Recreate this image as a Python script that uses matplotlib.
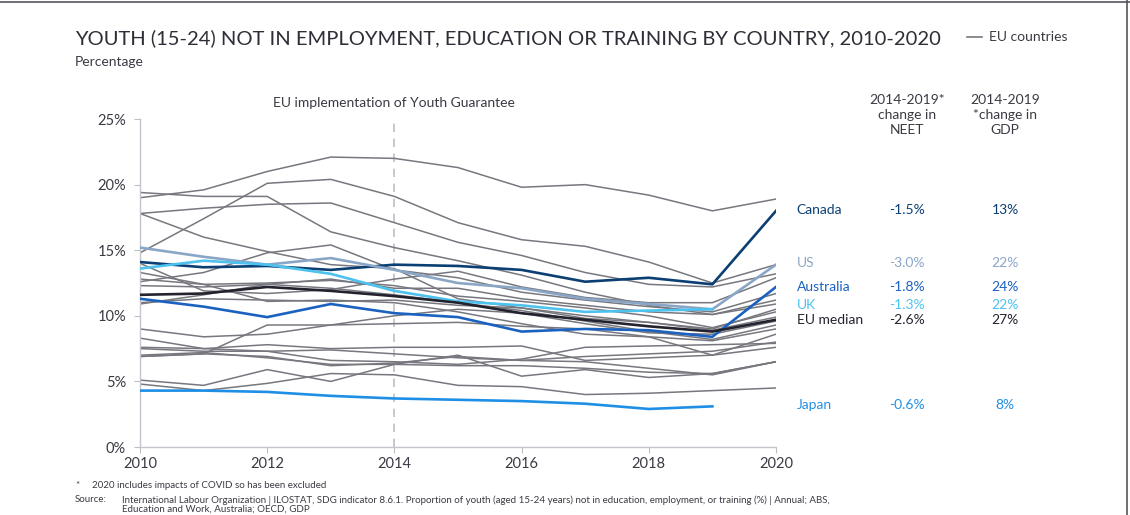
import numpy as np
import matplotlib.pyplot as plt
from matplotlib.lines import Line2D

plt.rcParams['font.family'] = ['Lato', 'DejaVu Sans']

years = list(range(2010, 2021))

# highlighted countries (UK and Japan stop at 2019)
canada    = [14.1, 13.7, 13.8, 13.5, 13.9, 13.8, 13.5, 12.6, 12.9, 12.4, 18.0]
us        = [15.2, 14.5, 13.9, 14.4, 13.5, 12.5, 12.1, 11.3, 10.9, 10.5, 13.9]
australia = [11.3, 10.7, 9.9, 10.9, 10.2, 9.9, 8.8, 9.0, 8.9, 8.4, 12.2]
uk        = [13.6, 14.2, 13.9, 13.2, 11.9, 11.1, 10.8, 10.3, 10.4, 10.5]
eu_median = [11.6, 11.7, 12.2, 11.9, 11.5, 11.0, 10.2, 9.7, 9.2, 8.8, 9.7]
japan     = [4.3, 4.3, 4.2, 3.9, 3.7, 3.6, 3.5, 3.3, 2.9, 3.1]

# individual EU member states
eu_countries = [
    [19.0, 19.6, 21.0, 22.1, 22.0, 21.3, 19.8, 20.0, 19.2, 18.0, 18.9],
    [14.8, 17.4, 20.1, 20.4, 19.1, 17.1, 15.8, 15.3, 14.1, 12.5, 13.9],
    [19.4, 19.1, 19.1, 16.4, 15.2, 14.2, 13.1, 11.8, 10.8, 10.1, 11.2],
    [17.8, 18.2, 18.5, 18.6, 17.1, 15.6, 14.6, 13.3, 12.4, 12.2, 13.2],
    [17.8, 16.0, 14.9, 13.9, 13.6, 11.3, 10.6, 10.0, 9.5, 9.0, 10.5],
    [12.6, 13.3, 14.8, 15.4, 13.5, 12.9, 11.8, 11.2, 10.7, 10.3, 11.7],
    [14.0, 11.9, 11.7, 12.0, 12.8, 13.4, 12.2, 11.4, 11.0, 11.0, 12.9],
    [12.3, 12.2, 12.4, 12.8, 12.1, 12.1, 11.3, 10.8, 10.3, 10.1, 10.9],
    [12.8, 12.4, 12.5, 12.7, 12.3, 11.5, 11.1, 10.6, 10.0, 9.1, 10.3],
    [10.9, 11.6, 12.4, 12.1, 11.6, 11.0, 10.4, 9.6, 8.8, 8.2, 9.3],
    [11.0, 11.3, 11.2, 11.1, 11.2, 10.8, 10.6, 9.8, 9.5, 8.9, 9.9],
    [13.3, 12.4, 11.1, 11.2, 11.0, 10.3, 9.4, 8.6, 8.4, 8.1, 9.0],
    [9.0, 8.4, 8.6, 9.3, 9.4, 9.5, 9.2, 9.0, 8.4, 7.0, 8.6],
    [6.9, 7.1, 9.3, 9.3, 10.0, 10.5, 10.2, 9.4, 8.7, 8.6, 9.6],
    [8.3, 7.5, 7.3, 6.6, 6.5, 6.3, 6.7, 7.6, 7.7, 7.8, 7.9],
    [7.6, 7.5, 7.8, 7.5, 7.6, 7.6, 7.7, 6.6, 6.8, 7.0, 7.6],
    [7.5, 7.3, 7.3, 7.4, 7.1, 6.8, 6.6, 6.5, 6.0, 5.5, 6.5],
    [7.0, 7.2, 6.8, 6.3, 6.3, 6.2, 6.2, 6.0, 5.7, 5.6, 6.5],
    [6.9, 7.1, 6.9, 6.2, 6.4, 6.9, 6.6, 6.9, 7.1, 7.3, 8.0],
    [5.1, 4.7, 5.9, 5.0, 6.3, 7.0, 5.4, 5.9, 5.3, 5.6, 6.5],
    [4.8, 4.3, 4.85, 5.6, 5.5, 4.7, 4.6, 4.0, 4.1, 4.3, 4.5],
]

series_names = ['Canada', 'US', 'Australia', 'UK', 'EU median', 'Japan']
neet_change  = ['-1.5%', '-3.0%', '-1.8%', '-1.3%', '-2.6%', '-0.6%']
gdp_change   = ['13%', '22%', '24%', '22%', '27%', '8%']

colors = ['#0b3f74', '#8aa6c6', '#1b62c0', '#4dc2ee', '#23232f', '#1f8fe6']
grey = '#77777f'
text_col = '#3a3a44'

fig = plt.figure(figsize=(11.3, 5.15), dpi=100)
ax = fig.add_axes([0.1239, 0.132, 0.5628, 0.6369])

for vals in eu_countries:
    ax.plot(years[:len(vals)], vals, color=grey, lw=1.1, zorder=2)

highlight = [canada, us, australia, uk, eu_median, japan]
for vals, c in zip(highlight, colors):
    ax.plot(years[:len(vals)], vals, color=c, lw=1.9, zorder=3)

# Youth Guarantee marker
ax.axvline(2014, color='#bdbdc4', lw=1.2, ls=(0, (5, 4)), zorder=1)
ax.text(2014, 26.2, 'EU implementation of Youth Guarantee', ha='center', va='center',
        fontsize=10, color=text_col)

ax.set_xlim(2010, 2020)
ax.set_ylim(0, 25)
ax.set_xticks(range(2010, 2021, 2))
ax.set_yticks(range(0, 26, 5))
ax.set_yticklabels([f'{v}%' for v in range(0, 26, 5)])
ax.tick_params(axis='both', labelsize=10.5, colors='#bfbfc6', labelcolor=text_col,
               length=4, width=0.8)
ax.tick_params(axis='y', pad=6)
for side in ['top', 'right']:
    ax.spines[side].set_visible(False)
for side in ['left', 'bottom']:
    ax.spines[side].set_color('#c4c4cc')
    ax.spines[side].set_linewidth(1.0)

# table of changes to the right of the plot
nudge = {'UK': 0.3, 'Canada': 0.05, 'US': 0.1, 'Japan': 0.1}
for name, vals, c, n, g in zip(series_names, highlight, colors, neet_change, gdp_change):
    y = vals[-1] + nudge.get(name, 0)
    ax.annotate(name, (2020, y), xytext=(15, 0), textcoords='offset points',
                ha='left', va='center', fontsize=10, color=c, annotation_clip=False)
    ax.annotate(n, (2020, y), xytext=(94, 0), textcoords='offset points',
                ha='center', va='center', fontsize=10, color=c, annotation_clip=False)
    ax.annotate(g, (2020, y), xytext=(165, 0), textcoords='offset points',
                ha='center', va='center', fontsize=10, color=c, annotation_clip=False)

fig.text(907 / 1130, 1 - 115 / 515, '2014-2019*\nchange in\nNEET', ha='center', va='center',
         fontsize=10, color=text_col, linespacing=1.3)
fig.text(1005 / 1130, 1 - 115 / 515, '2014-2019\n*change in\nGDP', ha='center', va='center',
         fontsize=10, color=text_col, linespacing=1.3)

# title block
fig.text(75 / 1130, 1 - 38 / 515,
         'YOUTH (15-24) NOT IN EMPLOYMENT, EDUCATION OR TRAINING BY COUNTRY, 2010-2020',
         ha='left', va='center', fontsize=14.5, color='#2e2e38')
fig.text(75 / 1130, 1 - 62 / 515, 'Percentage', ha='left', va='center', fontsize=10,
         color=text_col)

fig.add_artist(Line2D([967 / 1130, 982 / 1130], [1 - 37 / 515] * 2, color=grey, lw=1.2))
fig.text(989 / 1130, 1 - 37 / 515, 'EU countries', ha='left', va='center', fontsize=10,
         color=text_col)

# footnotes
fs = 7
fig.text(75 / 1130, 1 - 486 / 515, '*', ha='left', va='center', fontsize=fs, color=text_col)
fig.text(92 / 1130, 1 - 486 / 515, '2020 includes impacts of COVID so has been excluded',
         ha='left', va='center', fontsize=fs, color=text_col)
fig.text(75 / 1130, 1 - 500 / 515, 'Source:', ha='left', va='center', fontsize=fs,
         color=text_col)
fig.text(122 / 1130, 1 - 500 / 515,
         'International Labour Organization | ILOSTAT, SDG indicator 8.6.1. Proportion of youth '
         '(aged 15-24 years) not in education, employment, or training (%) | Annual; ABS,',
         ha='left', va='center', fontsize=fs, color=text_col)
fig.text(122 / 1130, 1 - 509.5 / 515, 'Education and Work, Australia; OECD, GDP',
         ha='left', va='center', fontsize=fs, color=text_col)

# frame edges along the top and right
fig.add_artist(Line2D([0, 1], [1 - 1.5 / 515] * 2, color='#55555f', lw=1.2))
fig.add_artist(Line2D([1 - 3 / 1130] * 2, [0, 1], color='#55555f', lw=1.2))

fig.savefig('out.png', dpi=100)
